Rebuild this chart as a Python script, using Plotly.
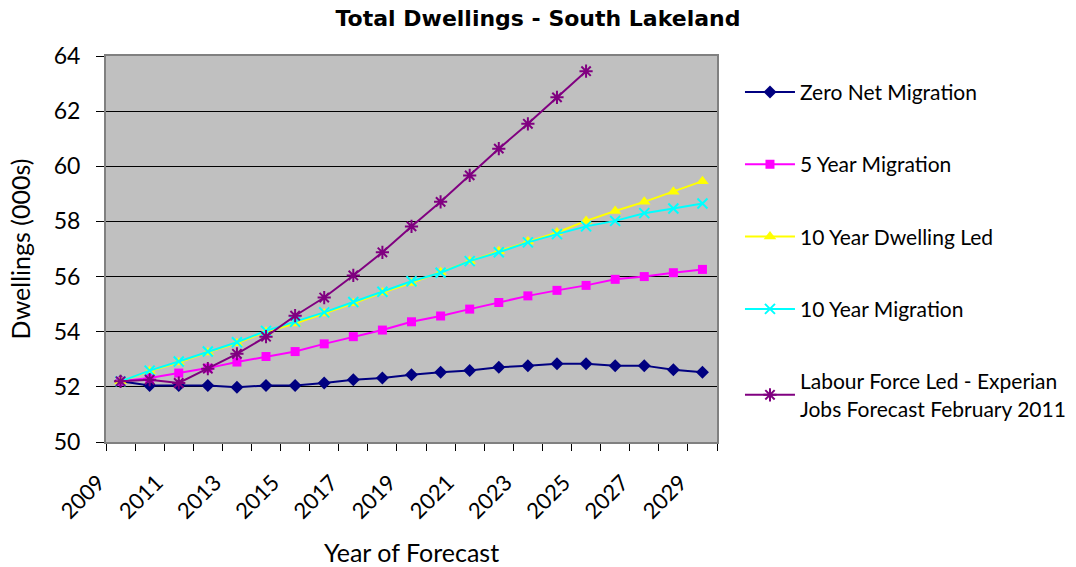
import plotly.graph_objects as go

years = list(range(2009, 2030))
tick_labels = [str(y) for y in range(2009, 2030, 2)]

zero_net = [52.2, 52.05, 52.05, 52.05, 51.99, 52.05, 52.05, 52.14, 52.26, 52.32,
            52.44, 52.53, 52.59, 52.71, 52.77, 52.84, 52.84, 52.77, 52.77, 52.62, 52.53]
five_year = [52.2, 52.32, 52.5, 52.68, 52.9, 53.1, 53.28, 53.56, 53.82, 54.06,
             54.36, 54.57, 54.82, 55.06, 55.3, 55.5, 55.68, 55.9, 56.0, 56.14, 56.26]
ten_dwelling = [52.2, 52.57, 52.88, 53.25, 53.58, 54.0, 54.3, 54.66, 55.03, 55.42,
                55.77, 56.16, 56.56, 56.92, 57.27, 57.6, 58.02, 58.38, 58.71, 59.08, 59.46]
ten_migration = [52.2, 52.59, 52.92, 53.28, 53.62, 54.03, 54.36, 54.7, 55.08, 55.45,
                 55.83, 56.14, 56.56, 56.88, 57.24, 57.54, 57.82, 58.02, 58.3, 58.47, 58.65]
labour_force = [52.2, 52.26, 52.14, 52.66, 53.2, 53.82, 54.58, 55.24, 56.04, 56.88,
                57.82, 58.71, 59.67, 60.64, 61.54, 62.5, 63.45,
                None, None, None, None]

series = [
    ("Zero Net Migration", zero_net, "#000080", "diamond", 10),
    ("5 Year Migration", five_year, "#FF00FF", "square", 9),
    ("10 Year Dwelling Led", ten_dwelling, "#FFFF00", "triangle-up", 11),
    ("10 Year Migration", ten_migration, "#00FFFF", "x-thin-open", 10),
    ("Labour Force Led - Experian<br>Jobs Forecast February 2011", labour_force, "#800080", "asterisk-open", 11),
]

FONT = "Lato, 'Open Sans', sans-serif"

fig = go.Figure()
for i, (name, vals, color, sym, size) in enumerate(series):
    marker = dict(symbol=sym, size=size, color=color)
    if sym.endswith("-open"):
        marker["line"] = dict(color=color, width=2)
    fig.add_trace(go.Scatter(
        x=years, y=vals, name=name, mode="lines+markers",
        line=dict(color=color, width=2), marker=marker,
        legendgroup=f"g{i}", connectgaps=False,
    ))

fig.update_layout(
    width=1076, height=567,
    margin=dict(l=106, r=359, t=56, b=125, autoexpand=False),
    paper_bgcolor="white", plot_bgcolor="#C0C0C0",
    font=dict(family=FONT, size=17, color="black"),
    title=dict(text="<b>Total Dwellings - South Lakeland</b>", x=0.5, xanchor="center",
               y=0.968, yanchor="middle",
               font=dict(family="'DejaVu Sans', Verdana, sans-serif", size=22, color="black")),
    legend=dict(x=1.0376, xanchor="left", y=0.959, yanchor="top",
                font=dict(family=FONT, size=21, color="black"),
                tracegroupgap=42, itemwidth=50, bgcolor="rgba(0,0,0,0)"),
    showlegend=True,
)

fig.update_xaxes(
    range=[2008.5, 2029.5], tickmode="array", tickvals=list(range(2009, 2030, 2)),
    ticktext=tick_labels, tickangle=-45, ticks="", showgrid=False,
    showline=True, linecolor="#808080", linewidth=2, mirror=True,
    tickfont=dict(family=FONT, size=22),
    ticklabelstandoff=17, ticklabelshift=-22,
    minor=dict(ticks="outside", tick0=2008.5, dtick=1, ticklen=7, tickcolor="black", tickwidth=1, showgrid=False),
    title=dict(text="Year of Forecast", font=dict(family=FONT, size=25), standoff=42),
    zeroline=False,
)
fig.update_yaxes(
    range=[50, 64], dtick=2, tick0=50, ticks="outside", ticklen=8, tickcolor="black",
    showgrid=True, gridcolor="black", gridwidth=1,
    showline=True, linecolor="#808080", linewidth=2, mirror=True,
    tickfont=dict(family=FONT, size=23), ticklabelstandoff=11,
    title=dict(text="Dwellings (000s)", font=dict(family=FONT, size=25), standoff=16),
    zeroline=False,
)

fig.write_html("out.html")
